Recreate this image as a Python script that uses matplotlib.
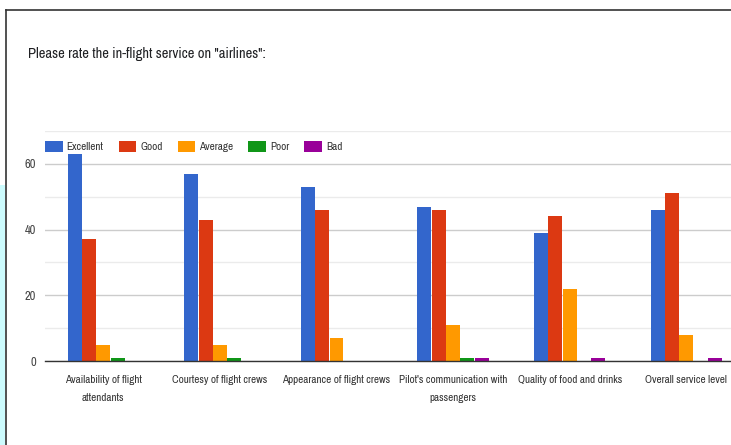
import numpy as np
import matplotlib
matplotlib.use('Agg')
import matplotlib.pyplot as plt
from matplotlib.patches import Rectangle
from matplotlib.lines import Line2D

plt.rcParams['font.family'] = ['Archivo Narrow', 'Liberation Sans', 'DejaVu Sans']

# data
categories = ['Availability of flight\nattendants', 'Courtesy of flight crews',
              'Appearance of flight crews', "Pilot's communication with\npassengers",
              'Quality of food and drinks', 'Overall service level']
series_names = ['Excellent', 'Good', 'Average', 'Poor', 'Bad']
excellent = [63, 57, 53, 47, 39, 46]
good = [37, 43, 46, 46, 44, 51]
average = [5, 5, 7, 11, 22, 8]
poor = [1, 1, 0, 1, 0, 0]
bad = [0, 0, 0, 1, 1, 1]
colors = ['#3366cc', '#dc3912', '#ff9900', '#109618', '#990099']
title = 'Please rate the in-flight service on "airlines":'

W, H = 731, 445
fig = plt.figure(figsize=(W / 100, H / 100), dpi=100)

# page frame + cyan strip on the left
fig.patches.append(Rectangle((0, 0), 5 / W, (445 - 185) / H, transform=fig.transFigure,
                             facecolor='#ccfbfd', edgecolor='none'))
fig.lines.append(Line2D([6 / W, 6 / W], [0, 1 - 10 / H], transform=fig.transFigure,
                        color='#333333', lw=1.2))
fig.lines.append(Line2D([6 / W, 1], [1 - 10 / H, 1 - 10 / H], transform=fig.transFigure,
                        color='#333333', lw=1.2))

fig.text(28 / W, 1 - 54 / H, title, fontsize=10.5, color='#202124', va='center', ha='left')

left, right = 45 / W, 744.6 / W
bottom, top = (H - 361) / H, (H - 131) / H
ax = fig.add_axes([left, bottom, right - left, top - bottom])

x = np.arange(len(categories))
bw = 0.123
data = [excellent, good, average, poor, bad]
for i, (name, vals) in enumerate(zip(series_names, data)):
    ax.bar(x + (i - 2) * bw, vals, width=bw * 0.97, color=colors[i], label=name, zorder=3)

ax.set_xlim(-0.5, len(categories) - 0.5)
ax.set_ylim(0, 70)
ax.set_yticks([0, 20, 40, 60])
ax.set_yticks([10, 30, 50, 70], minor=True)
ax.yaxis.grid(True, which='major', color='#cccccc', lw=1, zorder=0)
ax.yaxis.grid(True, which='minor', color='#ebebeb', lw=1, zorder=0)
ax.tick_params(axis='y', which='both', length=0, labelsize=9, labelcolor='#444444', pad=6.5)
ax.set_xticks(x)
ax.set_xticklabels(categories, fontsize=8, color='#333333', linespacing=2.05)
ax.tick_params(axis='x', length=0, pad=10)
for s in ['top', 'right', 'left']:
    ax.spines[s].set_visible(False)
ax.spines['bottom'].set_color('#333333')
ax.spines['bottom'].set_linewidth(1)
ax.spines['bottom'].set_zorder(4)

leg = ax.legend(loc='upper left', bbox_to_anchor=(0.0, 0.958), ncol=5, frameon=False,
                fontsize=8, handlelength=1.6, handleheight=1.25, handletextpad=0.35,
                columnspacing=1.35, borderaxespad=0, borderpad=0)
for t in leg.get_texts():
    t.set_color('#333333')

fig.savefig('out.png', dpi=100)
